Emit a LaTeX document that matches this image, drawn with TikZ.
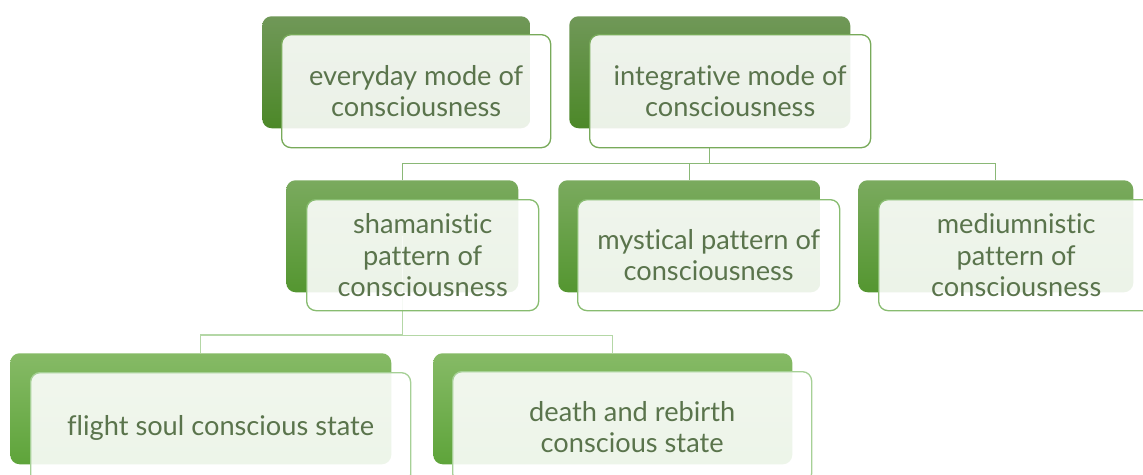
\documentclass[tikz,border=0pt]{standalone}
\usepackage{fontspec}
\setmainfont{Lato}[Ligatures=NoCommon]
\definecolor{txt}{RGB}{90,116,76}
\definecolor{topA}{RGB}{112,152,88}
\definecolor{botA}{RGB}{76,136,40}
\definecolor{topB}{RGB}{122,170,94}
\definecolor{botB}{RGB}{84,150,48}
\definecolor{topC}{RGB}{134,186,102}
\definecolor{botC}{RGB}{94,164,58}
\definecolor{edgeA}{RGB}{120,170,90}
\definecolor{edgeB}{RGB}{136,188,112}
\definecolor{edgeC}{RGB}{166,208,150}
\definecolor{linkA}{RGB}{138,184,118}
\definecolor{linkB}{RGB}{180,215,166}
\begin{document}
\begin{tikzpicture}[x=0.75pt,y=-0.75pt,
  backbox/.style={rectangle,rounded corners=7pt,inner sep=0pt,anchor=north west,draw=none},
  frontbox/.style={rectangle,rounded corners=7pt,inner sep=0pt,anchor=north west,
    fill=white,fill opacity=0.89,text opacity=1,draw opacity=1,line width=1pt,
    text=txt,align=center,font=\fontsize{20.4}{23.4}\selectfont},
  link/.style={line width=1pt}]
\useasboundingbox (0,0) rectangle (1143,475);
\clip (0,0) rectangle (1143,475);
% back boxes
\node[backbox,top color=topA,bottom color=botA,minimum width=201pt,minimum height=84pt] (evB) at (262,16) {};
\node[backbox,top color=topA,bottom color=botA,minimum width=210.75pt,minimum height=84pt] (inB) at (569,16) {};
\node[backbox,top color=topB,bottom color=botB,minimum width=174pt,minimum height=84pt] (shB) at (286,180) {};
\node[backbox,top color=topB,bottom color=botB,minimum width=196.5pt,minimum height=84pt] (myB) at (558,180) {};
\node[backbox,top color=topB,bottom color=botB,minimum width=206.25pt,minimum height=84pt] (meB) at (858,180) {};
\node[backbox,top color=topC,bottom color=botC,minimum width=285.75pt,minimum height=83.25pt] (flB) at (10,353) {};
\node[backbox,top color=topC,bottom color=botC,minimum width=269.25pt,minimum height=83.25pt] (deB) at (433,353) {};
% connectors (behind front boxes)
\coordinate (inOut) at ([yshift=-14.25pt]inB.south);
\coordinate (shOut) at ([yshift=-13.5pt]shB.south);
\draw[link,draw=linkA] (inOut) -- ++(0,16) -| (shB.north);
\draw[link,draw=linkA] (inOut) ++(0,16) -| (myB.north);
\draw[link,draw=linkA] (inOut) ++(0,16) -| (meB.north);
\draw[link,draw=linkB] (shB.center) |- ([yshift=13.5pt]flB.north) -- (flB.north);
\draw[link,draw=linkB] (shOut) ++(0,25) -| (deB.north);
% front boxes
\node[frontbox,draw=edgeA,minimum width=201.75pt,minimum height=84.75pt] (evF) at (281,34) {everyday mode of\\consciousness};
\node[frontbox,draw=edgeA,minimum width=210.75pt,minimum height=84.75pt] (inF) at (589,34) {integrative mode of\\consciousness};
\node[frontbox,draw=edgeB,minimum width=174pt,minimum height=83.25pt] (shF) at (306,199) {shamanistic\\pattern of\\consciousness};
\node[frontbox,draw=edgeB,minimum width=196.5pt,minimum height=83.25pt] (myF) at (577,199) {mystical pattern of\\consciousness};
\node[frontbox,draw=edgeB,minimum width=206.25pt,minimum height=83.25pt] (meF) at (878,199) {mediumnistic\\pattern of\\consciousness};
\node[frontbox,draw=edgeC,minimum width=285pt,minimum height=83.25pt] (flF) at (30,372) {flight soul conscious state};
\node[frontbox,draw=edgeC,minimum width=269.25pt,minimum height=83.25pt] (deF) at (452,371) {death and rebirth\\conscious state};
\end{tikzpicture}
\end{document}
